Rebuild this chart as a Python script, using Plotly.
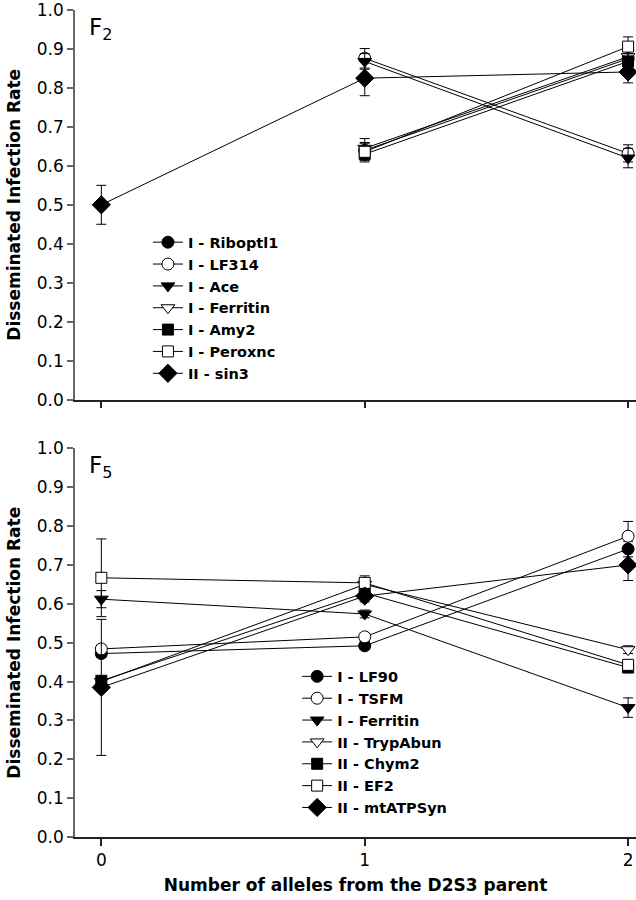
import plotly.graph_objects as go

# ---------------- data ----------------
x_alleles = [0, 1, 2]
x_tick_labels = ["0", "1", "2"]
y_ticks = [0.0, 0.1, 0.2, 0.3, 0.4, 0.5, 0.6, 0.7, 0.8, 0.9, 1.0]

# F2 panel
f2_names = ["I - Riboptl1", "I - LF314", "I - Ace", "I - Ferritin", "I - Amy2", "I - Peroxnc", "II - sin3"]
f2_riboptl1 = [None, 0.640, 0.875]
f2_lf314 = [None, 0.876, 0.632]
f2_ace = [None, 0.868, 0.620]
f2_ferritin = [None, 0.645, 0.880]
f2_amy2 = [None, 0.630, 0.868]
f2_peroxnc = [None, 0.636, 0.906]
f2_sin3 = [0.500, 0.825, 0.841]
f2_riboptl1_err = [0, 0.020, 0.020]
f2_lf314_err = [0, 0.025, 0.022]
f2_ace_err = [0, 0.020, 0.025]
f2_ferritin_err = [0, 0.025, 0.020]
f2_amy2_err = [0, 0.020, 0.020]
f2_peroxnc_err = [0, 0.022, 0.025]
f2_sin3_err = [0.050, 0.045, 0.028]

# F5 panel
f5_names = ["I - LF90", "I - TSFM", "I - Ferritin", "II - TrypAbun", "II - Chym2", "II - EF2", "II - mtATPSyn"]
f5_lf90 = [0.472, 0.492, 0.741]
f5_tsfm = [0.484, 0.515, 0.774]
f5_ferritin = [0.612, 0.574, 0.333]
f5_trypabun = [0.400, 0.650, 0.482]
f5_chym2 = [0.402, 0.628, 0.436]
f5_ef2 = [0.667, 0.654, 0.443]
f5_mtatpsyn = [0.385, 0.620, 0.700]
f5_lf90_err = [0.010, 0.010, 0.020]
f5_tsfm_err = [0.010, 0.010, 0.038]
f5_ferritin_err = [0.022, 0.010, 0.025]
f5_trypabun_err = [0.010, 0.015, 0.010]
f5_chym2_err = [0.010, 0.015, 0.010]
f5_ef2_err = [0.100, 0.018, 0.010]
f5_mtatpsyn_err = [0.175, 0.015, 0.040]

# ---------------- styling ----------------
symbols = ["circle", "circle", "triangle-down", "triangle-down", "square", "square", "diamond"]
fills = ["black", "white", "black", "white", "black", "white", "black"]
sizes = [12, 12, 12, 12, 11, 11, 14]

FONT = "DejaVu Sans"

fig = go.Figure()

def add_series(name, xs, ys, errs, i, xa, ya, legend):
    pts = [(x, y, e) for x, y, e in zip(xs, ys, errs) if y is not None]
    fig.add_trace(go.Scatter(
        x=[p[0] for p in pts], y=[p[1] for p in pts],
        mode="lines+markers", name=name,
        xaxis=xa, yaxis=ya, legend=legend,
        line=dict(color="black", width=1),
        marker=dict(symbol=symbols[i], size=sizes[i], color=fills[i],
                    line=dict(color="black", width=1)),
        error_y=dict(type="data", array=[p[2] for p in pts], visible=True,
                     color="black", thickness=1, width=5),
        cliponaxis=False,
    ))

f2_vals = [f2_riboptl1, f2_lf314, f2_ace, f2_ferritin, f2_amy2, f2_peroxnc, f2_sin3]
f2_errs = [f2_riboptl1_err, f2_lf314_err, f2_ace_err, f2_ferritin_err, f2_amy2_err, f2_peroxnc_err, f2_sin3_err]
for i, (n, v, e) in enumerate(zip(f2_names, f2_vals, f2_errs)):
    add_series(n, x_alleles, v, e, i, "x", "y", "legend")

f5_vals = [f5_lf90, f5_tsfm, f5_ferritin, f5_trypabun, f5_chym2, f5_ef2, f5_mtatpsyn]
f5_errs = [f5_lf90_err, f5_tsfm_err, f5_ferritin_err, f5_trypabun_err, f5_chym2_err, f5_ef2_err, f5_mtatpsyn_err]
for i, (n, v, e) in enumerate(zip(f5_names, f5_vals, f5_errs)):
    add_series(n, x_alleles, v, e, i, "x2", "y2", "legend2")

xcommon = dict(range=[-0.1, 2.03], tickvals=x_alleles, showgrid=False, zeroline=False,
               showline=True, linecolor="#222", linewidth=1.5,
               ticks="outside", ticklen=7, tickcolor="#222", tickwidth=1.5,
               ticklabeloverflow="allow")
ycommon = dict(range=[0, 1.0], tickvals=y_ticks, tickformat=".1f", showgrid=False, zeroline=False,
               showline=True, linecolor="#666", linewidth=1.5,
               ticks="outside", ticklen=6, tickcolor="#666", tickwidth=1.5,
               ticklabeloverflow="allow",
               tickfont=dict(family=FONT, size=17, color="black"),
               title=dict(text="<b>Disseminated Infection Rate</b>",
                          font=dict(family=FONT, size=17, color="black"), standoff=12))

legend_font = dict(family=FONT, size=14.5, color="black", weight="bold")

fig.update_layout(
    width=636, height=900,
    margin=dict(l=75, r=0, t=7, b=63),
    paper_bgcolor="white", plot_bgcolor="white",
    font=dict(family=FONT, color="black"),
    xaxis=dict(xcommon, domain=[0, 1], anchor="y", showticklabels=False),
    yaxis=dict(ycommon, domain=[0.5289, 1.0], anchor="x"),
    xaxis2=dict(xcommon, domain=[0, 1], anchor="y2", ticktext=x_tick_labels,
                tickfont=dict(family=FONT, size=17, color="black"),
                title=dict(text="<b>Number of alleles from the D2S3 parent</b>",
                           font=dict(family=FONT, size=17, color="black"), standoff=10)),
    yaxis2=dict(ycommon, domain=[0.0, 0.4699], anchor="x2"),
    legend=dict(x=0.13, y=0.7385, xanchor="left", yanchor="top",
                bgcolor="rgba(0,0,0,0)", borderwidth=0, tracegroupgap=0,
                itemwidth=30, font=legend_font),
    legend2=dict(x=0.396, y=0.2135, xanchor="left", yanchor="top",
                 bgcolor="rgba(0,0,0,0)", borderwidth=0, tracegroupgap=0,
                 itemwidth=30, font=legend_font),
    annotations=[
        dict(text="F<sub>2</sub>", xref="paper", yref="paper", x=0.022, y=0.977,
             xanchor="left", yanchor="middle", showarrow=False,
             font=dict(family=FONT, size=23, color="black")),
        dict(text="F<sub>5</sub>", xref="paper", yref="paper", x=0.022, y=0.447,
             xanchor="left", yanchor="middle", showarrow=False,
             font=dict(family=FONT, size=23, color="black")),
    ],
)

fig.write_html("out.html", config={"displayModeBar": False},
               post_script="document.body.style.margin='0';document.body.style.overflow='hidden';")
